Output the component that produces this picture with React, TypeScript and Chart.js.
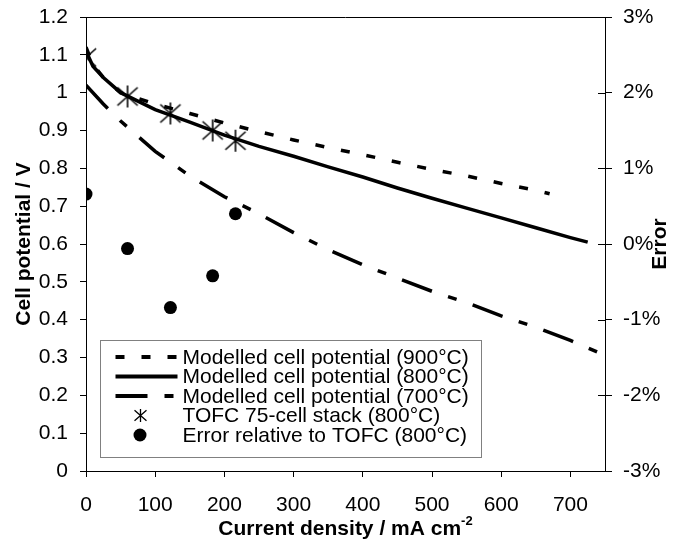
import React, { useEffect, useRef } from "react";
import { Chart, registerables } from "chart.js";

Chart.register(...registerables);

// ---- Data ----
const current900 = [0, 10, 25, 50, 100, 150, 200, 250, 300, 350, 400, 450, 500, 550, 600, 650, 670];
const potential900 = [1.12, 1.075, 1.04, 1.0, 0.97, 0.945, 0.92, 0.897, 0.875, 0.855, 0.836, 0.816, 0.797, 0.78, 0.76, 0.742, 0.733];

const current800 = [0, 10, 25, 50, 100, 150, 200, 250, 300, 350, 400, 450, 500, 550, 600, 650, 700, 725];
const potential800 = [1.11, 1.07, 1.04, 1.0, 0.955, 0.922, 0.888, 0.858, 0.832, 0.804, 0.777, 0.748, 0.721, 0.695, 0.669, 0.643, 0.617, 0.605];

const current700 = [0, 25, 50, 100, 150, 200, 250, 300, 350, 400, 450, 500, 550, 600, 650, 700, 745];
const potential700 = [1.02, 0.97, 0.925, 0.845, 0.78, 0.725, 0.68, 0.63, 0.585, 0.545, 0.51, 0.475, 0.445, 0.41, 0.38, 0.345, 0.31];

const stackCurrent = [0, 60, 122, 183, 216];
const stackPotential = [1.093, 0.99, 0.945, 0.9, 0.873];
const errorPercent = [0.66, -0.06, -0.84, -0.42, 0.4];

const seriesLabels = [
  "Modelled cell potential (900°C)",
  "Modelled cell potential (800°C)",
  "Modelled cell potential (700°C)",
  "TOFC 75-cell stack (800°C)",
  "Error relative to TOFC (800°C)",
];

const FONT = "'Liberation Sans', Arial, sans-serif";
const DASH900 = [9, 17];
const DASH700 = [32, 17, 9, 17];

function pts(xs: number[], ys: number[]) {
  return xs.map((x, i) => ({ x, y: ys[i] }));
}

function starPath(ctx: CanvasRenderingContext2D, x: number, y: number, r: number) {
  ctx.beginPath();
  ctx.moveTo(x, y - r);
  ctx.lineTo(x, y + r);
  const d = r * 0.92;
  const e = r * 0.82;
  ctx.moveTo(x - d, y - e);
  ctx.lineTo(x + d, y + e);
  ctx.moveTo(x + d, y - e);
  ctx.lineTo(x - d, y + e);
  ctx.stroke();
}

function makeStar(r: number, lw: number) {
  const s = Math.ceil(r * 2 + 4);
  const c = document.createElement("canvas");
  c.width = s;
  c.height = s;
  const ctx = c.getContext("2d")!;
  ctx.strokeStyle = "#000";
  ctx.lineWidth = lw;
  starPath(ctx, s / 2, s / 2, r);
  return c;
}

const decorPlugin = {
  id: "decor",
  afterDraw(chart: any) {
    const ctx: CanvasRenderingContext2D = chart.ctx;
    const a = chart.chartArea;
    ctx.save();
    // top border
    ctx.strokeStyle = "#000";
    ctx.lineWidth = 1;
    ctx.beginPath();
    ctx.moveTo(a.left, a.top + 0.5);
    ctx.lineTo(a.right, a.top + 0.5);
    ctx.stroke();
    // inner part of right ticks
    const yr = chart.scales.yR;
    ctx.beginPath();
    yr.ticks.forEach((t: any) => {
      const py = Math.round(yr.getPixelForValue(t.value)) + 0.5;
      ctx.moveTo(a.right - 7, py);
      ctx.lineTo(a.right, py);
    });
    ctx.stroke();

    // axis titles
    ctx.fillStyle = "#000";
    ctx.font = `bold 21px ${FONT}`;
    ctx.textBaseline = "middle";
    ctx.textAlign = "center";
    const cy = (a.top + a.bottom) / 2;
    ctx.save();
    ctx.translate(24, cy);
    ctx.rotate(-Math.PI / 2);
    ctx.fillText("Cell potential / V", 0, 0);
    ctx.restore();
    ctx.save();
    ctx.translate(chart.width - 13, cy);
    ctx.rotate(-Math.PI / 2);
    ctx.fillText("Error", 0, 0);
    ctx.restore();

    // x title with superscript
    const main = "Current density / mA cm";
    const sup = "-2";
    ctx.font = `bold 21px ${FONT}`;
    const w1 = ctx.measureText(main).width;
    ctx.font = `bold 13px ${FONT}`;
    const w2 = ctx.measureText(sup).width;
    const cx = (a.left + a.right) / 2;
    const x0 = cx - (w1 + w2) / 2;
    const ty = 529;
    ctx.textAlign = "left";
    ctx.font = `bold 21px ${FONT}`;
    ctx.fillText(main, x0, ty);
    ctx.font = `bold 13px ${FONT}`;
    ctx.fillText(sup, x0 + w1, ty - 8);

    // legend
    const bx = a.left + 14.5;
    const by = a.bottom - 130.5;
    const bw = 381;
    const bh = 117;
    ctx.fillStyle = "#fff";
    ctx.fillRect(bx, by, bw, bh);
    ctx.strokeStyle = "#808080";
    ctx.lineWidth = 1;
    ctx.strokeRect(bx, by, bw, bh);
    const sx0 = bx + 15;
    const sx1 = bx + 77;
    const tx = bx + 82;
    const rowY = (i: number) => by + 16.5 + i * 19.5;
    ctx.strokeStyle = "#000";
    ctx.lineWidth = 4;
    ctx.lineCap = "butt";
    const dashes = [DASH900, [], DASH700];
    for (let i = 0; i < 3; i++) {
      ctx.setLineDash(dashes[i]);
      ctx.beginPath();
      ctx.moveTo(sx0, rowY(i));
      ctx.lineTo(sx1, rowY(i));
      ctx.stroke();
    }
    ctx.setLineDash([]);
    ctx.lineWidth = 1.3;
    starPath(ctx, bx + 40, rowY(3), 6.5);
    ctx.fillStyle = "#000";
    ctx.beginPath();
    ctx.arc(bx + 39.5, rowY(4), 6.5, 0, Math.PI * 2);
    ctx.fill();
    ctx.font = `21px ${FONT}`;
    ctx.textAlign = "left";
    ctx.textBaseline = "middle";
    seriesLabels.forEach((l, i) => ctx.fillText(l, tx, rowY(i) + 1));
    ctx.restore();
  },
};

export default function App() {
  const ref = useRef<HTMLCanvasElement>(null);
  useEffect(() => {
    document.body.style.margin = "0";
    const star = makeStar(11, 1.6);
    const tickFont = { family: FONT, size: 21 };
    const chart = new Chart(ref.current!, {
      type: "line",
      data: {
        datasets: [
          {
            label: seriesLabels[0],
            data: pts(current900, potential900),
            borderColor: "#000",
            borderWidth: 3.5,
            borderDash: DASH900,
            pointRadius: 0,
            yAxisID: "y",
            tension: 0,
          },
          {
            label: seriesLabels[1],
            data: pts(current800, potential800),
            borderColor: "#000",
            borderWidth: 3.5,
            pointRadius: 0,
            yAxisID: "y",
            tension: 0,
          },
          {
            label: seriesLabels[2],
            data: pts(current700, potential700),
            borderColor: "#000",
            borderWidth: 3.5,
            borderDash: DASH700,
            pointRadius: 0,
            yAxisID: "y",
            tension: 0,
          },
          {
            label: seriesLabels[3],
            data: pts(stackCurrent, stackPotential),
            showLine: false,
            pointStyle: star as any,
            pointRadius: 11,
            borderColor: "#000",
            backgroundColor: "#000",
            yAxisID: "y",
          },
          {
            label: seriesLabels[4],
            data: pts(stackCurrent, errorPercent),
            showLine: false,
            pointStyle: "circle",
            pointRadius: 6.5,
            borderWidth: 0,
            borderColor: "#000",
            backgroundColor: "#000",
            yAxisID: "yR",
          },
        ],
      },
      options: {
        animation: false,
        responsive: false,
        maintainAspectRatio: false,
        layout: { padding: { top: 17, left: 0, right: 0, bottom: 0 } },
        plugins: { legend: { display: false }, tooltip: { enabled: false } },
        scales: {
          x: {
            type: "linear",
            min: 0,
            max: 750,
            afterFit: (s: any) => {
              s.height = 68;
              s.paddingLeft = 0;
              s.paddingRight = 0;
            },
            ticks: {
              stepSize: 100,
              includeBounds: false,
              color: "#000",
              font: tickFont,
              padding: 16,
              maxRotation: 0,
              autoSkip: false,
            },
            grid: { display: true, drawOnChartArea: false, drawTicks: true, tickLength: 6, color: "#000" },
            border: { display: true, color: "#000", width: 1 },
          },
          y: {
            type: "linear",
            position: "left",
            min: 0,
            max: 1.2,
            afterFit: (s: any) => {
              s.width = 86;
              s.paddingTop = 0;
              s.paddingBottom = 0;
            },
            ticks: {
              stepSize: 0.1,
              color: "#000",
              font: tickFont,
              padding: 12,
              autoSkip: false,
              callback: (v: any) => String(Math.round(Number(v) * 10) / 10),
            },
            grid: { display: true, drawOnChartArea: false, drawTicks: true, tickLength: 6, color: "#000" },
            border: { display: true, color: "#000", width: 1 },
          },
          yR: {
            type: "linear",
            position: "right",
            min: -3,
            max: 3,
            afterFit: (s: any) => {
              s.width = 68;
              s.paddingTop = 0;
              s.paddingBottom = 0;
            },
            ticks: {
              stepSize: 1,
              color: "#000",
              font: tickFont,
              padding: 11,
              callback: (v: any) => `${Math.round(Number(v))}%`,
            },
            grid: { display: true, drawOnChartArea: false, drawTicks: true, tickLength: 7, color: "#000" },
            border: { display: true, color: "#000", width: 1 },
          },
        },
      },
      plugins: [decorPlugin],
    });
    return () => chart.destroy();
  }, []);
  return (
    <div style={{ width: 673, height: 539 }}>
      <canvas ref={ref} width={673} height={539} style={{ display: "block", width: 673, height: 539 }} />
    </div>
  );
}
